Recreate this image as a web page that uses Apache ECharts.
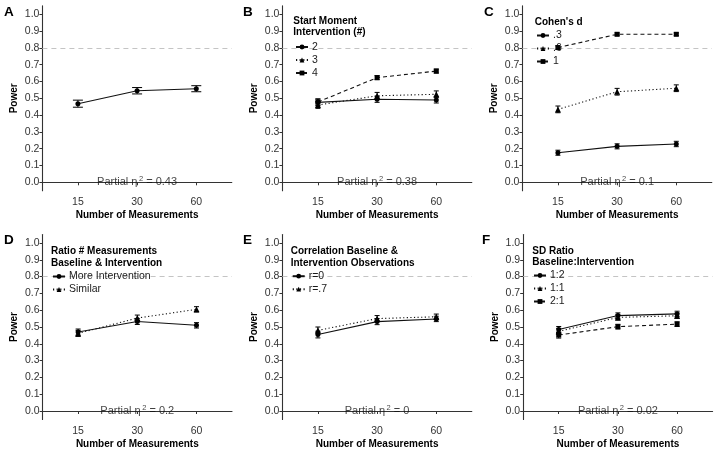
<!DOCTYPE html>
<html><head><meta charset="utf-8">
<script src="https://cdn.jsdelivr.net/npm/echarts@6/dist/echarts.min.js"></script>
<style>html,body{margin:0;padding:0;background:#fff}#c{width:718px;height:452px}</style>
</head><body><div id="c"></div>
<script>
// ---- data ----
const categories = ['15', '30', '60'];
const yTickValues = [0, 0.1, 0.2, 0.3, 0.4, 0.5, 0.6, 0.7, 0.8, 0.9, 1.0];
const powerTarget = 0.8;

// A
const powerA = [0.468, 0.545, 0.557];
const errA = [0.021, 0.019, 0.018];
// B  Start Moment Intervention (#)
const powerB2 = [0.476, 0.494, 0.490];
const powerB3 = [0.460, 0.515, 0.524];
const powerB4 = [0.478, 0.623, 0.662];
const errB2 = [0.020, 0.018, 0.018];
const errB3 = [0.020, 0.020, 0.020];
const errB4 = [0.018, 0.012, 0.012];
// C  Cohen's d
const powerC3 = [0.176, 0.214, 0.228];
const powerC6 = [0.434, 0.539, 0.560];
const powerC1 = [0.802, 0.881, 0.881];
const errC3 = [0.015, 0.015, 0.016];
const errC6 = [0.020, 0.020, 0.020];
const errC1 = [0.010, 0.008, 0.008];
// D  Ratio # Measurements Baseline & Intervention
const powerDMore = [0.470, 0.533, 0.510];
const powerDSimilar = [0.462, 0.553, 0.605];
const errDMore = [0.018, 0.018, 0.016];
const errDSimilar = [0.018, 0.018, 0.016];
// E  Correlation Baseline & Intervention Observations
const powerE0 = [0.455, 0.532, 0.548];
const powerE7 = [0.480, 0.550, 0.561];
const errE0 = [0.020, 0.018, 0.016];
const errE7 = [0.020, 0.018, 0.016];
// F  SD Ratio Baseline:Intervention
const powerF12 = [0.485, 0.568, 0.578];
const powerF11 = [0.474, 0.557, 0.567];
const powerF21 = [0.452, 0.502, 0.517];
const errF12 = [0.018, 0.016, 0.016];
const errF11 = [0.018, 0.016, 0.016];
const errF21 = [0.018, 0.014, 0.014];

const etaValues = ['0.43', '0.38', '0.1', '0.2', '0', '0.02'];
const panelLetters = ['A', 'B', 'C', 'D', 'E', 'F'];

// ---- layout / styles ----
const FONT = 'Liberation Sans, Arial, Helvetica, sans-serif';
const gridW = 189.4, gridH = 184.8;
const grids = [
  {left: 42.4, top: 5.9}, {left: 282.4, top: 5.9}, {left: 522.4, top: 5.9},
  {left: 42.6, top: 234.6}, {left: 282.4, top: 234.6}, {left: 523.2, top: 234.6}
];
const SOLID = 'solid', DOTTED = [1.2, 2.4], DASHED = [4, 3];

const panels = [
  {series: [{name: 'A', v: powerA, e: errA, sym: 'circle', ls: SOLID}], cap: 10, legend: null},
  {title: 'Start Moment\nIntervention (#)', tPos: [293.3, 15], lPos: [295, 41.5],
   series: [{name: '2', v: powerB2, e: errB2, sym: 'circle', ls: SOLID},
            {name: '3', v: powerB3, e: errB3, sym: 'triangle', ls: DOTTED},
            {name: '4', v: powerB4, e: errB4, sym: 'rect', ls: DASHED}], cap: 5},
  {title: "Cohen's d", tPos: [534.7, 16.5], lPos: [536, 30],
   series: [{name: '.3', v: powerC3, e: errC3, sym: 'circle', ls: SOLID},
            {name: '.6', v: powerC6, e: errC6, sym: 'triangle', ls: DOTTED},
            {name: '1', v: powerC1, e: errC1, sym: 'rect', ls: DASHED}], cap: 5},
  {title: 'Ratio # Measurements\nBaseline & Intervention', tPos: [51, 245.5], lPos: [52, 271],
   series: [{name: 'More Intervention', v: powerDMore, e: errDMore, sym: 'circle', ls: SOLID},
            {name: 'Similar', v: powerDSimilar, e: errDSimilar, sym: 'triangle', ls: DOTTED}], cap: 5},
  {title: 'Correlation Baseline &\nIntervention Observations', tPos: [290.7, 245.5], lPos: [291.7, 270.7],
   series: [{name: 'r=0', v: powerE0, e: errE0, sym: 'circle', ls: SOLID},
            {name: 'r=.7', v: powerE7, e: errE7, sym: 'triangle', ls: DOTTED}], cap: 5},
  {title: 'SD Ratio\nBaseline:Intervention', tPos: [532.3, 245], lPos: [533, 270],
   series: [{name: '1:2', v: powerF12, e: errF12, sym: 'circle', ls: SOLID},
            {name: '1:1', v: powerF11, e: errF11, sym: 'triangle', ls: DOTTED},
            {name: '2:1', v: powerF21, e: errF21, sym: 'rect', ls: DASHED}], cap: 5}
];

const option = {
  animation: false,
  textStyle: {fontFamily: FONT},
  grid: [], xAxis: [], yAxis: [], series: [], title: [], legend: []
};

const letterPos = [[4, 5], [243, 5], [484, 5], [4, 233.5], [243, 233.5], [482, 233.5]];

panels.forEach((p, i) => {
  option.grid.push({left: grids[i].left, top: grids[i].top, width: gridW, height: gridH});
  option.xAxis.push({
    type: 'value', gridIndex: i, min: 0.4, max: 3.6,
    axisLine: {show: true, lineStyle: {color: '#333', width: 1.1}},
    axisTick: {show: true, customValues: [1, 2, 3], length: 3, lineStyle: {color: '#333'}},
    axisLabel: {customValues: [1, 2, 3], formatter: v => categories[Math.round(v) - 1],
                fontSize: 10.5, color: '#333', margin: 6, fontFamily: FONT},
    splitLine: {show: false},
    name: 'Number of Measurements', nameLocation: 'middle', nameGap: 20,
    nameTextStyle: {fontSize: 10, fontWeight: 'bold', color: '#000', fontFamily: FONT}
  });
  option.yAxis.push({
    type: 'value', gridIndex: i, min: -0.05, max: 1.05,
    axisLine: {show: true, lineStyle: {color: '#333', width: 1.1}},
    axisTick: {show: true, customValues: yTickValues, length: 3, lineStyle: {color: '#333'}},
    axisLabel: {customValues: yTickValues, formatter: v => v.toFixed(1),
                fontSize: 10.5, color: '#333', margin: 3, fontFamily: FONT},
    splitLine: {show: false},
    name: 'Power', nameLocation: 'middle', nameGap: 23,
    nameTextStyle: {fontSize: 10, fontWeight: 'bold', color: '#000', fontFamily: FONT}
  });
  option.title.push({text: panelLetters[i], left: letterPos[i][0], top: letterPos[i][1], padding: 0,
    textStyle: {fontSize: 13.5, fontWeight: 'bold', color: '#000', fontFamily: FONT}});
  if (p.title) {
    option.title.push({text: p.title, left: p.tPos[0], top: p.tPos[1], padding: 0,
      textStyle: {fontSize: 10, fontWeight: 'bold', color: '#000', lineHeight: 11.5, fontFamily: FONT}});
    option.legend.push({
      data: p.series.map(s => s.name), orient: 'vertical', left: p.lPos[0], top: p.lPos[1],
      padding: 0, itemWidth: 12, itemHeight: 6, itemGap: 2,
      textStyle: {fontSize: 10.5, color: '#1a1a1a', fontFamily: FONT, padding: [0, 0, 0, -1]},
      selectedMode: false
    });
  }
  p.series.forEach((s, k) => {
    const line = {
      type: 'line', name: s.name, xAxisIndex: i, yAxisIndex: i,
      data: s.v.map((v, j) => [j + 1, v]),
      symbol: s.sym, symbolSize: s.sym === 'triangle' ? 6 : 5,
      lineStyle: {color: '#111', width: 1.1, type: s.ls},
      itemStyle: {color: '#000'}, z: 3
    };
    if (k === 0) {
      line.markLine = {silent: true, symbol: 'none', label: {show: false},
        lineStyle: {color: '#c4c4c4', type: [5, 4], width: 1},
        data: [{yAxis: powerTarget}], z: 1};
    }
    option.series.push(line);
    const cap = p.cap;
    option.series.push({
      type: 'custom', xAxisIndex: i, yAxisIndex: i, z: 4,
      data: s.v.map((v, j) => [j + 1, v - s.e[j], v + s.e[j]]),
      encode: {x: 0, y: [1, 2]},
      renderItem: (params, api) => {
        const x = api.value(0);
        const a = api.coord([x, api.value(1)]);
        const b = api.coord([x, api.value(2)]);
        const st = {stroke: '#000', lineWidth: 1};
        return {type: 'group', children: [
          {type: 'line', shape: {x1: a[0], y1: a[1], x2: b[0], y2: b[1]}, style: st},
          {type: 'line', shape: {x1: a[0] - cap / 2, y1: a[1], x2: a[0] + cap / 2, y2: a[1]}, style: st},
          {type: 'line', shape: {x1: b[0] - cap / 2, y1: b[1], x2: b[0] + cap / 2, y2: b[1]}, style: st}
        ]};
      }
    });
  });
  option.series.push({
    type: 'scatter', xAxisIndex: i, yAxisIndex: i, symbolSize: 0, silent: true, z: 5,
    data: [[2, 0]], itemStyle: {color: '#000'},
    label: {show: true, position: [0, 0], align: 'center', verticalAlign: 'middle',
      color: '#000', textBorderWidth: 0,
      formatter: '{a|Partial η}{s|2}{a| = ' + etaValues[i] + '}',
      rich: {
        a: {fontSize: 11, color: '#111', fontFamily: FONT, textBorderWidth: 0},
        s: {fontSize: 7.5, color: '#111', fontFamily: FONT, textBorderWidth: 0, padding: [0, 0, 7, 1.5]}
      }}
  });
});

const chart = echarts.init(document.getElementById('c'), null, {renderer: 'canvas'});
chart.setOption(option);
</script></body></html>
